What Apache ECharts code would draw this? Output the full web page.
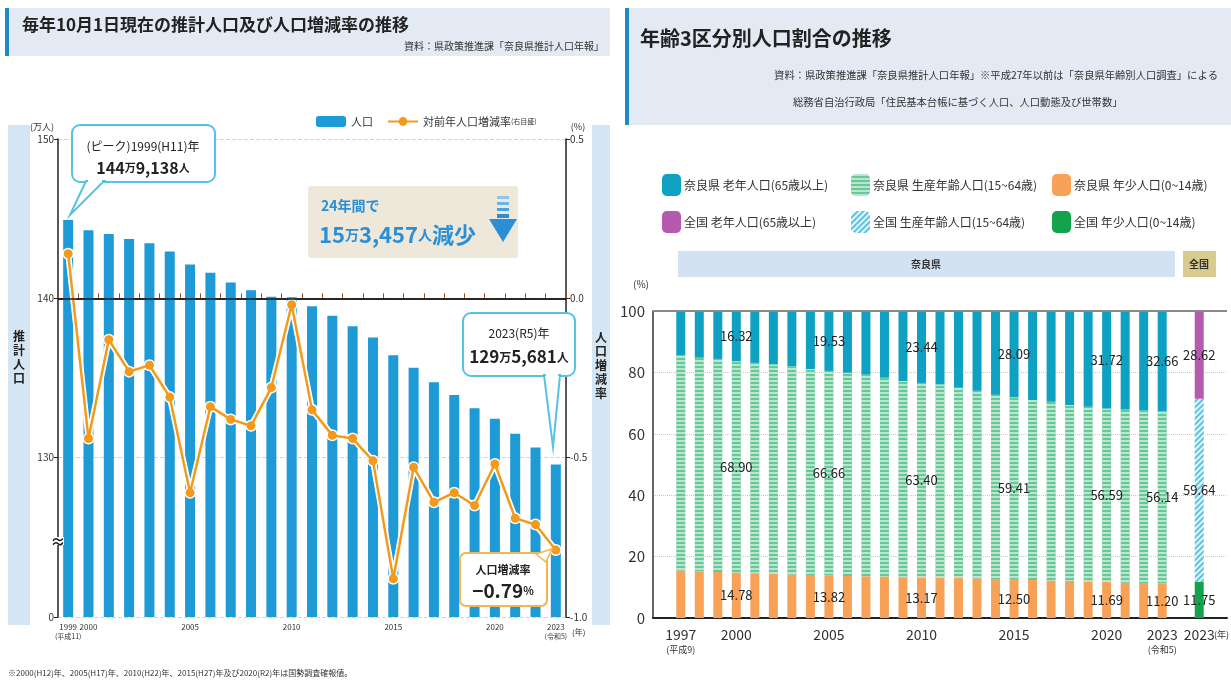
<!DOCTYPE html>
<html>
<head>
<meta charset="utf-8">
<script src="https://cdn.jsdelivr.net/npm/echarts@6/dist/echarts.min.js"></script>
<style>
  html, body { margin: 0; padding: 0; background: #fff; }
  #main { width: 1231px; height: 681px; }
</style>
</head>
<body>
<div id="main"></div>
<script>
// ---- left chart: population (万人) and yearly change rate (%) ----
const popYears = ['1999','2000','2001','2002','2003','2004','2005','2006','2007','2008','2009','2010',
  '2011','2012','2013','2014','2015','2016','2017','2018','2019','2020','2021','2022','2023'];
const population = [144.91, 144.28, 144.04, 143.73, 143.46, 142.94, 142.13, 141.6, 141.0, 140.5, 140.1, 140.07,
  139.5, 138.9, 138.25, 137.54, 136.43, 135.64, 134.73, 133.94, 133.1, 132.45, 131.5, 130.64, 129.57];
const changeRate = [0.14, -0.44, -0.13, -0.23, -0.21, -0.31, -0.61, -0.34, -0.38, -0.40, -0.28, -0.02,
  -0.35, -0.43, -0.44, -0.51, -0.88, -0.53, -0.64, -0.61, -0.65, -0.52, -0.69, -0.71, -0.79];
const popLabelYears = ['1999','2000','2005','2010','2015','2020','2023'];

// ---- right chart: age 3-group shares (%) ----
const ageYears = ['1997','1998','1999','2000','2001','2002','2003','2004','2005','2006','2007','2008','2009',
  '2010','2011','2012','2013','2014','2015','2016','2017','2018','2019','2020','2021','2022','2023'];
const naraElderly = [14.4, 15.2, 15.6, 16.32, 16.9, 17.4, 18.0, 18.9, 19.53, 20.1, 20.7, 21.7, 22.8,
  23.44, 23.9, 25.0, 26.0, 27.3, 28.09, 29.0, 29.6, 30.6, 31.2, 31.72, 32.1, 32.4, 32.66];
const naraWorking = [70.1, 69.6, 69.4, 68.90, 68.5, 68.2, 67.8, 67.1, 66.66, 66.2, 65.7, 64.8, 63.9,
  63.40, 63.0, 62.0, 61.1, 60.0, 59.41, 58.6, 58.2, 57.3, 56.9, 56.59, 56.4, 56.2, 56.14];
const naraYoung = [15.5, 15.2, 15.0, 14.78, 14.6, 14.4, 14.2, 14.0, 13.82, 13.7, 13.6, 13.5, 13.3,
  13.17, 13.1, 13.0, 12.9, 12.7, 12.50, 12.4, 12.2, 12.1, 11.9, 11.69, 11.5, 11.4, 11.20];
const nationElderly = 28.62;
const nationWorking = 59.64;
const nationYoung = 11.75;
const ageLabelYears = ['2000','2005','2010','2015','2020','2023'];

const FONT = '"Noto Sans CJK JP", "Noto Sans", sans-serif';

// category slots: blank, 27 Nara years, blank, 全国, blank
const ageCats = [''].concat(ageYears, [' ', '全国', '  ']);
const NAT_IDX = ageYears.length + 2;

function naraData(arr) {
  const d = arr.map((v, i) => ageLabelYears.includes(ageYears[i]) ? { value: v, label: { show: true } } : v);
  return [null].concat(d, [null, null, null]);
}
function nationData(v) {
  return ageCats.map((c, i) => i === NAT_IDX ? { value: v, label: { show: true } } : null);
}

const chart = echarts.init(document.getElementById('main'), null, { renderer: 'canvas' });

const segLabel = {
  show: false, position: 'inside', color: '#222', fontSize: 13,
  formatter: p => p.value.toFixed(2)
};
const narrowStripe = { symbol: 'rect', symbolSize: 1, color: 'rgba(255,255,255,0.55)',
  dashArrayX: [1, 0], dashArrayY: [1.5, 2], rotation: 0 };
const diagStripe = { symbol: 'rect', symbolSize: 1, color: '#5cc3df',
  dashArrayX: [1, 0], dashArrayY: [2, 2], rotation: -Math.PI / 4 };

function ageSeries(name, data, color, decal) {
  const s = {
    name, type: 'bar', stack: 'age', xAxisIndex: 1, yAxisIndex: 2, barWidth: 9,
    data, itemStyle: { color }, label: segLabel, silent: true
  };
  if (decal) s.itemStyle.decal = decal;
  return s;
}

function legendItem(name, left, top) {
  return {
    data: [name], left, top, itemWidth: 19, itemHeight: 22, itemGap: 4, selectedMode: false,
    textStyle: { fontSize: 12, color: '#333', padding: [0, 0, 0, -2] }
  };
}

// callout boxes sit above the bars and line
const TOP = 100;

const option = {
  animation: false,
  textStyle: { fontFamily: FONT },
  grid: [
    { left: 58, top: 139, width: 508, height: 478 },
    { left: 653, top: 311, width: 574, height: 307 }
  ],
  legend: [
    {
      data: ['人口', '対前年人口増減率'], left: 311, top: 111, itemWidth: 30, itemHeight: 11, itemGap: 14,
      selectedMode: false,
      textStyle: { fontSize: 11, color: '#333', rich: { a: { fontSize: 11, color: '#333' }, b: { fontSize: 7, color: '#333' } } },
      formatter: n => n === '対前年人口増減率' ? '{a|対前年人口増減率}{b|(右目盛)}' : '{a|' + n + '}'
    },
    legendItem('奈良県 老年人口(65歳以上)', 657, 169),
    legendItem('奈良県 生産年齢人口(15~64歳)', 846, 169),
    legendItem('奈良県 年少人口(0~14歳)', 1047, 169),
    legendItem('全国 老年人口(65歳以上)', 657, 206),
    legendItem('全国 生産年齢人口(15~64歳)', 846, 206),
    legendItem('全国 年少人口(0~14歳)', 1047, 206)
  ],
  xAxis: [
    {
      type: 'category', gridIndex: 0, data: popYears,
      axisLine: { lineStyle: { color: '#222', width: 1.5 } },
      axisTick: { show: true, inside: true, length: 5, interval: 0, lineStyle: { color: '#9a4a2a' } },
      axisLabel: {
        interval: 0, margin: 5,
        formatter: v => {
          if (v === '1999') return '{a|1999}\n{b|(平成11)}';
          if (v === '2023') return '{a|2023}\n{b|(令和5)}';
          return popLabelYears.includes(v) ? '{a|' + v + '}' : '';
        },
        rich: {
          a: { fontSize: 8, color: '#333', lineHeight: 10 },
          b: { fontSize: 7, color: '#333', lineHeight: 9 }
        }
      }
    },
    {
      type: 'category', gridIndex: 1, data: ageCats,
      axisLine: { lineStyle: { color: '#222', width: 2 } },
      axisTick: { show: false },
      axisLabel: {
        interval: 0, margin: 8,
        formatter: (v, i) => {
          if (v === '1997') return '{y|1997}\n{s|(平成9)}';
          if (v === '2023') return '{y|2023}\n{s|(令和5)}';
          if (i === NAT_IDX) return '{y|2023}';
          return ageLabelYears.includes(v) ? '{y|' + v + '}' : '';
        },
        rich: {
          y: { fontSize: 14, color: '#333', lineHeight: 18 },
          s: { fontSize: 9, color: '#333', lineHeight: 12 }
        }
      }
    }
  ],
  yAxis: [
    {
      type: 'value', gridIndex: 0, min: 120, max: 150, interval: 10, position: 'left',
      axisLine: { show: true, lineStyle: { color: '#222', width: 1.5 } },
      axisTick: { show: true, length: 4, lineStyle: { color: '#222' } },
      axisLabel: { fontSize: 10, color: '#333', margin: 4, formatter: v => v === 120 ? '0' : String(v) },
      splitLine: { show: true, lineStyle: { color: '#d4d4d4', type: 'dashed' } }
    },
    {
      type: 'value', gridIndex: 0, min: -1, max: 0.5, interval: 0.5, position: 'right',
      axisLine: { show: true, lineStyle: { color: '#222', width: 1.5 } },
      axisTick: { show: true, length: 4, lineStyle: { color: '#222' } },
      axisLabel: { fontSize: 10, color: '#333', margin: 4, formatter: v => v.toFixed(1) },
      splitLine: { show: false }
    },
    {
      type: 'value', gridIndex: 1, min: 0, max: 100, interval: 20,
      axisLine: { show: true, lineStyle: { color: '#333', width: 1.5 } },
      axisTick: { show: false },
      axisLabel: { fontSize: 15, color: '#333', margin: 8 },
      splitLine: { show: true, lineStyle: { color: '#c8c8c8', type: 'dotted' } }
    }
  ],
  series: [
    {
      name: '人口', type: 'bar', xAxisIndex: 0, yAxisIndex: 0, data: population, barWidth: 10,
      itemStyle: { color: '#1E9AD6' }, silent: true,
      markLine: {
        silent: true, symbol: 'none', label: { show: false },
        lineStyle: { color: '#1a1a1a', width: 1.5, type: 'solid' },
        data: [{ yAxis: 140 }]
      }
    },
    {
      name: 'halo', type: 'line', xAxisIndex: 0, yAxisIndex: 1, data: changeRate, z: 3, silent: true,
      symbol: 'circle', symbolSize: 12, itemStyle: { color: '#fff' },
      lineStyle: { color: '#fff', width: 6 }
    },
    {
      name: '対前年人口増減率', type: 'line', xAxisIndex: 0, yAxisIndex: 1, data: changeRate, z: 4, silent: true,
      symbol: 'circle', symbolSize: 9, itemStyle: { color: '#F39A1D' },
      lineStyle: { color: '#F39A1D', width: 2.5 }
    },
    ageSeries('奈良県 年少人口(0~14歳)', naraData(naraYoung), '#F7A257'),
    ageSeries('全国 年少人口(0~14歳)', nationData(nationYoung), '#14A34D'),
    ageSeries('奈良県 生産年齢人口(15~64歳)', naraData(naraWorking), '#66C896', narrowStripe),
    ageSeries('全国 生産年齢人口(15~64歳)', nationData(nationWorking), '#e4f6fb', diagStripe),
    Object.assign(ageSeries('奈良県 老年人口(65歳以上)', naraData(naraElderly), '#0FA1C1'), {
      markLine: {
        silent: true, symbol: 'none', label: { show: false },
        lineStyle: { color: '#8a8a8a', width: 2, type: 'solid' },
        data: [{ yAxis: 100 }]
      }
    }),
    ageSeries('全国 老年人口(65歳以上)', nationData(nationElderly), '#B45BAE')
  ],
  graphic: [
    // left title band
    { type: 'rect', shape: { x: 5, y: 8, width: 605, height: 48 }, style: { fill: '#E3EAF3' } },
    { type: 'rect', shape: { x: 5, y: 8, width: 4, height: 48 }, style: { fill: '#1E8BC3' } },
    { type: 'text', x: 22, y: 25, style: { text: '毎年10月1日現在の推計人口及び人口増減率の推移', font: 'bold 17px ' + FONT, fill: '#222', verticalAlign: 'middle' } },
    { type: 'text', x: 604, y: 46, style: { text: '資料：県政策推進課「奈良県推計人口年報」', font: '10px ' + FONT, fill: '#333', align: 'right', verticalAlign: 'middle' } },
    // right title band
    { type: 'rect', shape: { x: 625, y: 8, width: 606, height: 117 }, style: { fill: '#E3EAF3' } },
    { type: 'rect', shape: { x: 625, y: 8, width: 4, height: 117 }, style: { fill: '#1E8BC3' } },
    { type: 'text', x: 640, y: 38, style: { text: '年齢3区分別人口割合の推移', font: 'bold 20px ' + FONT, fill: '#222', verticalAlign: 'middle' } },
    { type: 'text', x: 1218, y: 75, style: { text: '資料：県政策推進課「奈良県推計人口年報」※平成27年以前は「奈良県年齢別人口調査」による', font: '10.3px ' + FONT, fill: '#333', align: 'right', verticalAlign: 'middle' } },
    { type: 'text', x: 793, y: 102, style: { text: '総務省自治行政局「住民基本台帳に基づく人口、人口動態及び世帯数」', font: '10.3px ' + FONT, fill: '#333', verticalAlign: 'middle' } },
    // left side panels
    { type: 'rect', shape: { x: 8, y: 125, width: 22, height: 500 }, style: { fill: '#D4E5F3' } },
    { type: 'rect', shape: { x: 592, y: 125, width: 18, height: 500 }, style: { fill: '#D4E5F3' } },
    { type: 'text', x: 19, y: 357, style: { text: '推\n計\n人\n口', font: 'bold 12px ' + FONT, lineHeight: 14, fill: '#222', align: 'center', verticalAlign: 'middle' } },
    { type: 'text', x: 601, y: 365, style: { text: '人\n口\n増\n減\n率', font: 'bold 12px ' + FONT, lineHeight: 14, fill: '#222', align: 'center', verticalAlign: 'middle' } },
    { type: 'text', x: 42, y: 127, style: { text: '(万人)', font: '9px ' + FONT, fill: '#333', align: 'center', verticalAlign: 'middle' } },
    { type: 'text', x: 578, y: 127, style: { text: '(%)', font: '9px ' + FONT, fill: '#333', align: 'center', verticalAlign: 'middle' } },
    { type: 'text', x: 572, y: 632, style: { text: '(年)', font: '8px ' + FONT, fill: '#333', verticalAlign: 'middle' } },
    // axis break mark
    { type: 'rect', z: TOP, shape: { x: 52, y: 537, width: 12, height: 8 }, style: { fill: '#fff' } },
    { type: 'text', z: TOP, x: 58, y: 541, style: { text: '≈', font: 'bold 15px ' + FONT, fill: '#222', align: 'center', verticalAlign: 'middle' } },
    // peak callout
    { type: 'rect', z: TOP, shape: { x: 72, y: 125, width: 143, height: 57, r: 8 }, style: { fill: '#fff', stroke: '#55C3E3', lineWidth: 2 } },
    { type: 'polygon', z: TOP, shape: { points: [[86, 181], [104, 181], [70, 215]] }, style: { fill: '#fff', stroke: '#55C3E3', lineWidth: 2 } },
    { type: 'line', z: TOP, shape: { x1: 88, y1: 181, x2: 102, y2: 181 }, style: { stroke: '#fff', lineWidth: 3 } },
    { type: 'text', z: TOP, x: 143, y: 146, style: { text: '(ピーク)1999(H11)年', font: '12px ' + FONT, fill: '#222', align: 'center', verticalAlign: 'middle' } },
    { type: 'text', z: TOP, x: 143, y: 168, style: { text: '{a|144}{b|万}{a|9,138}{b|人}', align: 'center', verticalAlign: 'middle',
      rich: { a: { font: 'bold 16px ' + FONT, fill: '#222' }, b: { font: 'bold 11px ' + FONT, fill: '#222' } } } },
    // decrease box
    { type: 'rect', z: TOP, shape: { x: 308, y: 186, width: 210, height: 72, r: 3 }, style: { fill: '#EDE8DA' } },
    { type: 'text', z: TOP, x: 321, y: 206, style: { text: '24年間で', font: 'bold 14px ' + FONT, fill: '#2B8FD6', verticalAlign: 'middle' } },
    { type: 'text', z: TOP, x: 319, y: 235, style: { text: '{a|15}{b|万}{a|3,457}{b|人}{a|減少}', verticalAlign: 'middle',
      rich: { a: { font: 'bold 22px ' + FONT, fill: '#2B8FD6' }, b: { font: 'bold 14px ' + FONT, fill: '#2B8FD6' } } } },
    { type: 'rect', z: TOP, shape: { x: 497, y: 196, width: 12, height: 3 }, style: { fill: '#8cc6ee' } },
    { type: 'rect', z: TOP, shape: { x: 497, y: 202, width: 12, height: 3 }, style: { fill: '#6ab4e8' } },
    { type: 'rect', z: TOP, shape: { x: 497, y: 208, width: 12, height: 3 }, style: { fill: '#4aa2e0' } },
    { type: 'rect', z: TOP, shape: { x: 497, y: 214, width: 12, height: 4 }, style: { fill: '#2B8FD6' } },
    { type: 'polygon', z: TOP, shape: { points: [[489, 219], [517, 219], [503, 242]] }, style: { fill: '#2B8FD6' } },
    // 2023 callout
    { type: 'rect', z: TOP, shape: { x: 463, y: 313, width: 112, height: 63, r: 8 }, style: { fill: '#fff', stroke: '#55C3E3', lineWidth: 2 } },
    { type: 'polygon', z: TOP, shape: { points: [[544, 375], [560, 375], [553, 447]] }, style: { fill: '#fff', stroke: '#55C3E3', lineWidth: 2 } },
    { type: 'line', z: TOP, shape: { x1: 546, y1: 375, x2: 558, y2: 375 }, style: { stroke: '#fff', lineWidth: 3 } },
    { type: 'text', z: TOP, x: 519, y: 333, style: { text: '2023(R5)年', font: '12px ' + FONT, fill: '#222', align: 'center', verticalAlign: 'middle' } },
    { type: 'text', z: TOP, x: 519, y: 357, style: { text: '{a|129}{b|万}{a|5,681}{b|人}', align: 'center', verticalAlign: 'middle',
      rich: { a: { font: 'bold 17px ' + FONT, fill: '#222' }, b: { font: 'bold 12px ' + FONT, fill: '#222' } } } },
    // rate callout
    { type: 'rect', z: TOP, shape: { x: 460, y: 553, width: 87, height: 53, r: 6 }, style: { fill: '#fff', stroke: '#F5B54A', lineWidth: 2 } },
    { type: 'polygon', z: TOP, shape: { points: [[536, 554], [546, 562], [552, 549]] }, style: { fill: '#fff', stroke: '#F5B54A', lineWidth: 1.5 } },
    { type: 'text', z: TOP, x: 503, y: 570, style: { text: '人口増減率', font: 'bold 11px ' + FONT, fill: '#222', align: 'center', verticalAlign: 'middle' } },
    { type: 'text', z: TOP, x: 503, y: 591, style: { text: '{a|−0.79}{b|%}', align: 'center', verticalAlign: 'middle',
      rich: { a: { font: 'bold 19px ' + FONT, fill: '#222' }, b: { font: 'bold 11px ' + FONT, fill: '#222' } } } },
    // footnote
    { type: 'text', x: 8, y: 673, style: { text: '※2000(H12)年、2005(H17)年、2010(H22)年、2015(H27)年及び2020(R2)年は国勢調査確報値。', font: '8px ' + FONT, fill: '#333', verticalAlign: 'middle' } },
    // right chart header bands
    { type: 'rect', shape: { x: 678, y: 251, width: 497, height: 26 }, style: { fill: '#D3E2F2' } },
    { type: 'text', x: 926, y: 264, style: { text: '奈良県', font: 'bold 10px ' + FONT, fill: '#333', align: 'center', verticalAlign: 'middle' } },
    { type: 'rect', shape: { x: 1183, y: 251, width: 33, height: 26 }, style: { fill: '#D9CB8E' } },
    { type: 'text', x: 1199, y: 264, style: { text: '全国', font: 'bold 10px ' + FONT, fill: '#333', align: 'center', verticalAlign: 'middle' } },
    { type: 'text', x: 641, y: 284, style: { text: '(%)', font: '10px ' + FONT, fill: '#333', align: 'center', verticalAlign: 'middle' } },
    { type: 'text', x: 1214, y: 635, style: { text: '(年)', font: '9px ' + FONT, fill: '#333', verticalAlign: 'middle' } }
  ]
};

chart.setOption(option);
</script>
</body>
</html>
